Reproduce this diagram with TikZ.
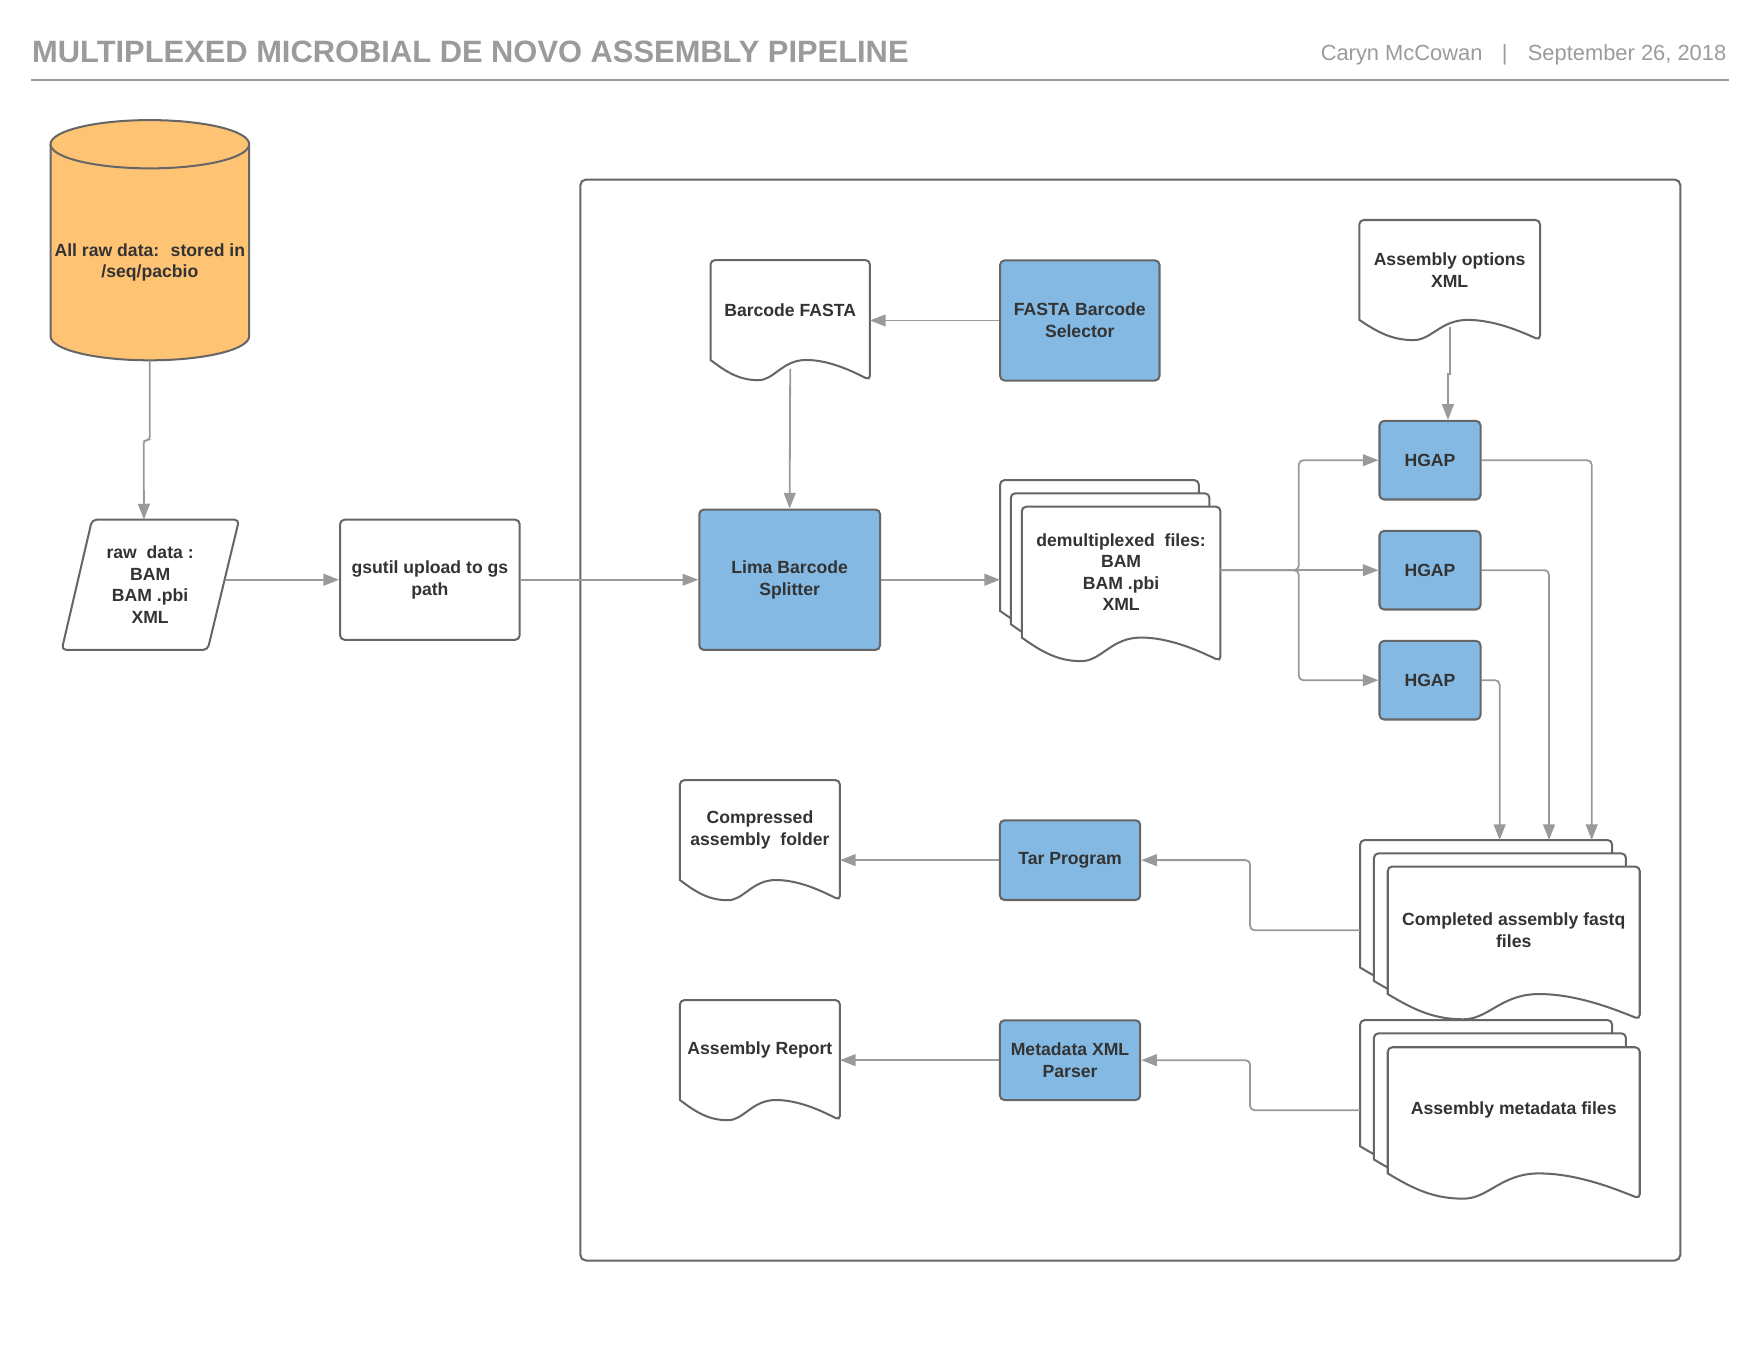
\documentclass[tikz,border=0pt]{standalone}
\usepackage{fontspec}
\setmainfont{Liberation Sans}
\usetikzlibrary{arrows.meta,calc}
\pgfdeclarelayer{bg}
\pgfsetlayers{bg,main}
\definecolor{edgec}{HTML}{666666}
\definecolor{connc}{HTML}{9A9A9A}
\definecolor{procblue}{HTML}{83B9E2}
\definecolor{dbfill}{HTML}{FFC374}
\definecolor{txtc}{HTML}{333333}
\definecolor{titlegray}{HTML}{9B9B9B}
\newcommand{\docwave}[2]{%
 \path[shapeline, fill=white] let \p1=(#1.south west), \p2=(#1.north east) in
 (\x1,{0.5*\y1+0.5*\y2}) [rounded corners=4pt] -- (\x1,\y2) -- (\x2,\y2) -- (\x2,{\y1-#2pt}) [sharp corners]
 .. controls ({0.1*\x1+0.9*\x2},{\y1-0.6*#2pt}) and ({0.25*\x1+0.75*\x2},\y1) .. ({0.4*\x1+0.6*\x2},\y1)
 .. controls ({0.55*\x1+0.45*\x2},\y1) and ({0.6*\x1+0.4*\x2},{\y1-#2pt}) .. ({0.7*\x1+0.3*\x2},{\y1-#2pt})
 .. controls ({0.82*\x1+0.18*\x2},{\y1-#2pt}) and ({0.9*\x1+0.1*\x2},{\y1-0.6*#2pt}) .. (\p1) -- cycle;}
\tikzset{
 lbl/.style={font=\bfseries\fontsize{15.7}{19.2}\selectfont, text=txtc, align=center, inner sep=0pt},
 proc/.style={lbl, draw=edgec, line width=1.8pt, fill=procblue, rounded corners=4pt},
 plainbox/.style={proc, fill=white},
 docnode/.style={lbl, outer sep=0pt},
 shapeline/.style={draw=edgec, line width=1.8pt},
 conn/.style={draw=connc, line width=1.6pt, -{Triangle[length=14pt,width=10.5pt]}},
 titletxt/.style={inner sep=0pt, text=titlegray},
}
\begin{document}
\begin{tikzpicture}[x=1pt, y=-1pt]
\useasboundingbox (0,0) rectangle (1568,1212);
% title
\node[titletxt, anchor=base west, font=\bfseries\fontsize{27.5}{30}\selectfont] (title) at (28.5,56) {MULTIPLEXED MICROBIAL DE NOVO ASSEMBLY PIPELINE};
\node[titletxt, anchor=base east, font=\fontsize{19.5}{22}\selectfont] (author) at (1321,54) {Caryn McCowan};
\node[titletxt, anchor=base, font=\fontsize{19.5}{22}\selectfont] (sep) at (1340.5,54) {|};
\node[titletxt, anchor=base west, font=\fontsize{19.5}{22}\selectfont] (date) at (1361,54) {September 26, 2018};
\draw[titlegray, line width=2pt] (28,71) -- (1540,71);

% frame
\begin{pgfonlayer}{bg}
\node[draw=edgec, line width=1.8pt, rounded corners=5pt, minimum width=980pt, minimum height=963pt, inner sep=0pt] (frame) at (1007,641.5) {};
\end{pgfonlayer}

% cylinder
\draw[shapeline, fill=dbfill] (45,128.5) -- (45,299.5) arc[start angle=180, end angle=360, x radius=88.5pt, y radius=21.5pt] -- (222,128.5);
\draw[shapeline, fill=dbfill] (133.5,128.5) ellipse [x radius=88.5pt, y radius=21.5pt];
\node[lbl, minimum width=177pt, minimum height=174pt] (db) at (133.5,234) {All raw data:~ stored in\\/seq/pacbio};

% parallelogram
\draw[shapeline, rounded corners=4pt] (82,463) -- (213,463) -- (185,579) -- (55,579) -- cycle;
\node[lbl, minimum width=133pt, minimum height=116pt] (raw) at (133.75,521) {raw~ data :\\BAM\\BAM .pbi\\XML};

% process boxes
\node[plainbox, minimum width=160pt, minimum height=107pt] (gs) at (383,516.5) {gsutil upload to gs\\path};
\node[proc, minimum width=161pt, minimum height=125pt] (lima) at (703.5,516.5) {Lima Barcode\\Splitter};
\node[proc, minimum width=142pt, minimum height=107pt] (sel) at (962,285.5) {FASTA Barcode\\Selector};
\node[proc, minimum width=90pt, minimum height=70pt] (h1) at (1274,410) {HGAP};
\node[proc, minimum width=90pt, minimum height=70pt] (h2) at (1274,508) {HGAP};
\node[proc, minimum width=90pt, minimum height=70pt] (h3) at (1274,606) {HGAP};
\node[proc, minimum width=125pt, minimum height=71pt] (tar) at (953.3,766.3) {Tar Program};
\node[proc, minimum width=125pt, minimum height=71pt] (par) at (953.3,944.5) {Metadata XML\\Parser};

% documents
\node[docnode, minimum width=142pt, minimum height=89pt] (bf) at (704,276.2) {Barcode FASTA};
\node[docnode, minimum width=161pt, minimum height=89pt] (ao) at (1291.5,240.5) {Assembly options\\XML};
\node[docnode, minimum width=142.6pt, minimum height=89pt] (comp) at (677,739.5) {Compressed\\assembly~ folder};
\node[docnode, minimum width=142.6pt, minimum height=89pt] (rep) at (677,935.5) {Assembly Report};
\node[docnode, minimum width=177pt, minimum height=116.6pt] (dmb) at (979.5,486) {};
\node[docnode, minimum width=177pt, minimum height=116.6pt] (dmm) at (989,497.8) {};
\node[docnode, minimum width=177pt, minimum height=116.6pt] (dmf) at (998.8,509.7) {demultiplexed~ files:\\BAM\\BAM .pbi\\XML};
\node[docnode, minimum width=224.5pt, minimum height=113.6pt] (cfb) at (1324,805.2) {};
\node[docnode, minimum width=224.5pt, minimum height=113.6pt] (cfm) at (1336.3,817.1) {};
\node[docnode, minimum width=224.5pt, minimum height=113.6pt] (cff) at (1348.6,828.8) {Completed assembly fastq\\files};
\node[docnode, minimum width=224.5pt, minimum height=112.4pt] (mdb) at (1324,965) {};
\node[docnode, minimum width=224.5pt, minimum height=112.4pt] (mdm) at (1336.3,976.8) {};
\node[docnode, minimum width=224.5pt, minimum height=112.4pt] (mdf) at (1348.6,989.2) {Assembly metadata files};

\begin{pgfonlayer}{bg}
\docwave{bf}{18}
\docwave{ao}{18}
\docwave{comp}{18}
\docwave{rep}{18}
\docwave{dmb}{21}
\docwave{dmm}{21}
\docwave{dmf}{21}
\docwave{cfb}{22.5}
\docwave{cfm}{22.5}
\docwave{cff}{22.5}
\docwave{mdb}{22.5}
\docwave{mdm}{22.5}
\docwave{mdf}{22.5}
\end{pgfonlayer}

% connectors
\draw[conn, rounded corners=3pt] (db.south) -- ++(0,71) -- ++(-5.5,0) -- ($(raw.north)+(-5.5,0)$);
\draw[conn] (raw.east |- gs.west) -- (gs.west);
\draw[conn] (gs.east) -- (lima.west);
\draw[conn] (sel.west) -- (sel.west -| bf.east);
\draw[conn] ($(bf.south)+(0,8)$) -- (lima.north);
\draw[conn] (lima.east) -- (lima.east -| dmb.west);
\draw[conn] (dmf.east |- h2.west) -- (h2.west);
\draw[conn, rounded corners=4pt] (dmf.east |- h2.west) -- ([xshift=-71pt]h2.west) |- (h1.west);
\draw[conn, rounded corners=4pt] (dmf.east |- h2.west) -- ([xshift=-71pt]h2.west) |- (h3.west);
\draw[conn] ($(ao.south)+(0,6)$) -- ++(0,42) -- ++(-1.5,0) -- ($(h1.north)+(16,0)$);
\draw[conn, rounded corners=4pt] (h1.east) -| ($(cfb.north west)+(206.3,0)$);
\draw[conn, rounded corners=4pt] (h2.east) -| ($(cfb.north west)+(168.3,0)$);
\draw[conn, rounded corners=4pt] (h3.east) -| ($(cfb.north west)+(124.3,0)$);
\draw[conn, rounded corners=4pt] (cfb.west |- cff.west) -| ([xshift=97pt]tar.east) -- (tar.east);
\draw[conn, rounded corners=4pt] (mdb.west |- mdf.west) -| ([xshift=97pt]par.east) -- (par.east);
\draw[conn] (tar.west) -- (tar.west -| comp.east);
\draw[conn] (par.west) -- (par.west -| rep.east);
\end{tikzpicture}
\end{document}
